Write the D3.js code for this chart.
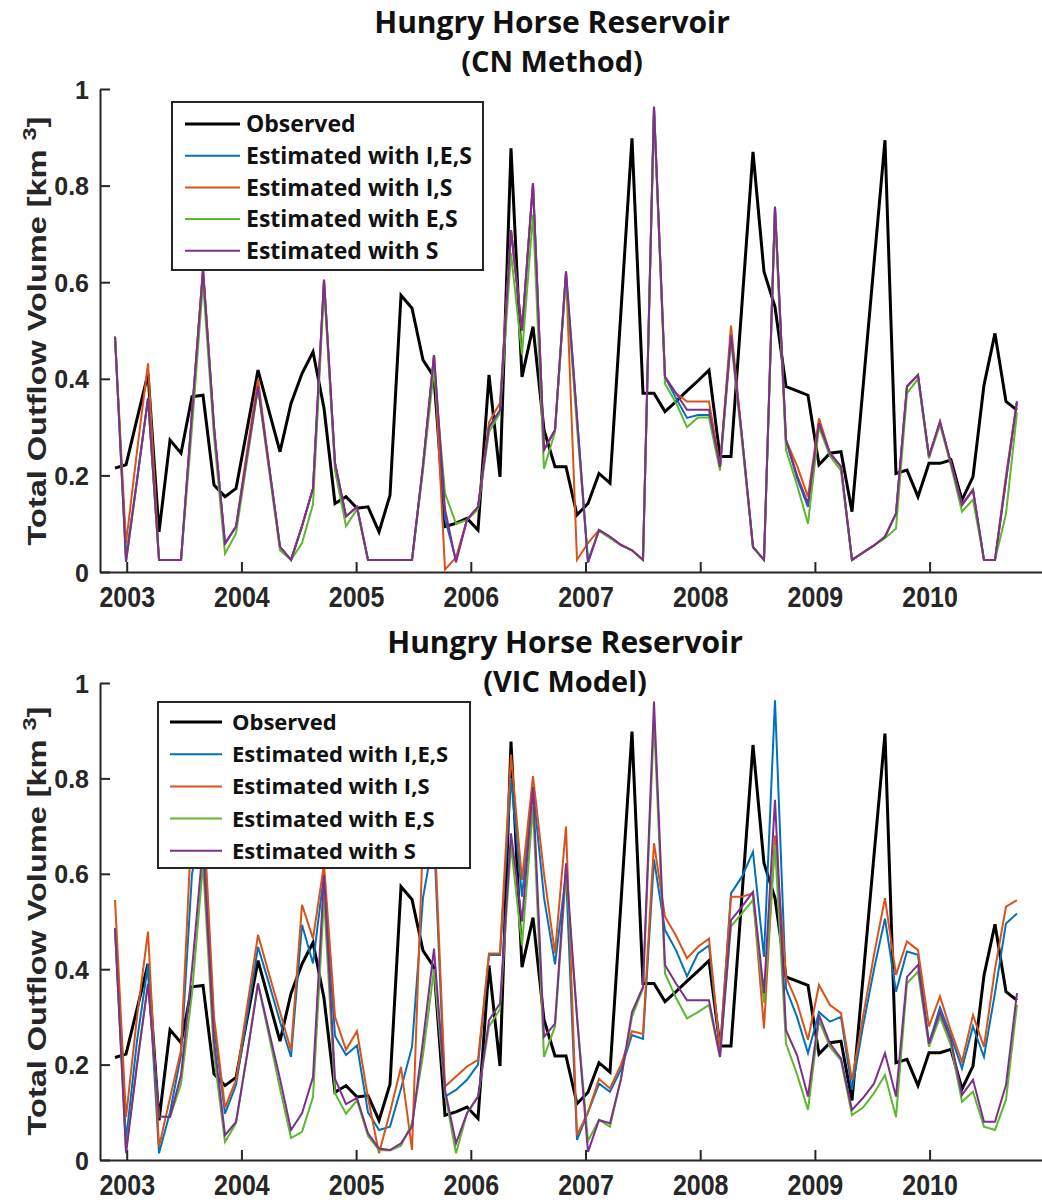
<!DOCTYPE html>
<html>
<head>
<meta charset="utf-8">
<script src="https://cdn.jsdelivr.net/npm/d3@7"></script>
<style>
  body { margin: 0; background: #fff; }
  svg { display: block; }
  .axis path, .axis line { stroke: #262626; stroke-width: 2; }
  .axis text { font-family: "Liberation Sans", Arial, sans-serif; font-weight: bold; font-size: 25px; fill: #262626; }
  .title { font-family: "Open Sans", sans-serif; font-weight: bold; fill: #111; }
  .ylabel { font-family: "Liberation Sans", Arial, sans-serif; font-weight: bold; font-size: 25px; fill: #262626; }
  .legend text { font-family: "Open Sans", sans-serif; font-weight: bold; fill: #111; }
</style>
</head>
<body>
<script>

// sampling: one value about every 35 days, starting late 2002
var firstSample = 2002.898,
    sampleStep = 0.0959;

var yearTicks = [2003, 2004, 2005, 2006, 2007, 2008, 2009, 2010];
var yTicks = [0, 0.2, 0.4, 0.6, 0.8, 1];

var seriesNames = ["Observed", "Estimated with I,E,S", "Estimated with I,S", "Estimated with E,S", "Estimated with S"];
var seriesColors = ["#000000", "#0072BD", "#D95319", "#5DB82E", "#7E2F8E"];

var observed = [
  0.215, 0.222, 0.317, 0.411, 0.083, 0.273, 0.246, 0.363, 0.366, 0.180,
  0.156, 0.173, 0.295, 0.418, 0.333, 0.249, 0.349, 0.411, 0.456, 0.339,
  0.142, 0.156, 0.132, 0.135, 0.083, 0.159, 0.573, 0.546, 0.439, 0.404,
  0.094, 0.101, 0.111, 0.087, 0.408, 0.197, 0.877, 0.404, 0.508, 0.294,
  0.218, 0.218, 0.118, 0.142, 0.204, 0.184, 0.541, 0.898, 0.370, 0.370,
  0.332, 0.353, 0.375, 0.396, 0.418, 0.239, 0.239, 0.555, 0.870, 0.622,
  0.549, 0.384, 0.375, 0.366, 0.222, 0.246, 0.249, 0.125, 0.381, 0.638,
  0.894, 0.204, 0.211, 0.156, 0.225, 0.225, 0.232, 0.149, 0.197, 0.387,
  0.494, 0.353, 0.335
];

// CN method estimates
var cnIES = [
  0.487, 0.030, 0.190, 0.360, 0.025, 0.025, 0.025, 0.330, 0.625, 0.300,
  0.059, 0.094, 0.240, 0.384, 0.220, 0.052, 0.025, 0.095, 0.173, 0.605,
  0.225, 0.115, 0.135, 0.025, 0.025, 0.025, 0.025, 0.025, 0.220, 0.449,
  0.110, 0.025, 0.108, 0.135, 0.300, 0.335, 0.708, 0.500, 0.805, 0.253,
  0.294, 0.622, 0.320, 0.020, 0.087, 0.073, 0.056, 0.045, 0.025, 0.963,
  0.404, 0.360, 0.319, 0.325, 0.325, 0.218, 0.490, 0.280, 0.052, 0.025,
  0.756, 0.273, 0.195, 0.135, 0.308, 0.246, 0.218, 0.025, 0.040, 0.055,
  0.073, 0.121, 0.384, 0.408, 0.239, 0.311, 0.225, 0.139, 0.170, 0.025,
  0.025, 0.190, 0.353
];
var cnIS = [
  0.487, 0.060, 0.250, 0.432, 0.025, 0.025, 0.025, 0.330, 0.630, 0.300,
  0.059, 0.094, 0.250, 0.400, 0.220, 0.052, 0.025, 0.095, 0.173, 0.605,
  0.225, 0.115, 0.135, 0.025, 0.025, 0.025, 0.025, 0.025, 0.220, 0.449,
  0.005, 0.030, 0.108, 0.135, 0.310, 0.350, 0.708, 0.500, 0.805, 0.253,
  0.294, 0.622, 0.025, 0.060, 0.087, 0.073, 0.056, 0.045, 0.025, 0.963,
  0.404, 0.370, 0.353, 0.353, 0.353, 0.218, 0.510, 0.280, 0.052, 0.025,
  0.756, 0.273, 0.220, 0.156, 0.318, 0.246, 0.218, 0.025, 0.040, 0.055,
  0.073, 0.121, 0.384, 0.408, 0.239, 0.311, 0.225, 0.139, 0.170, 0.025,
  0.025, 0.200, 0.353
];
var cnES = [
  0.487, 0.021, 0.190, 0.360, 0.025, 0.025, 0.025, 0.300, 0.600, 0.280,
  0.038, 0.080, 0.230, 0.380, 0.210, 0.045, 0.025, 0.060, 0.140, 0.590,
  0.210, 0.095, 0.130, 0.025, 0.025, 0.025, 0.025, 0.025, 0.210, 0.420,
  0.163, 0.100, 0.108, 0.130, 0.290, 0.330, 0.660, 0.450, 0.740, 0.214,
  0.290, 0.610, 0.300, 0.025, 0.085, 0.070, 0.055, 0.045, 0.025, 0.950,
  0.390, 0.350, 0.300, 0.320, 0.320, 0.210, 0.480, 0.270, 0.050, 0.025,
  0.740, 0.253, 0.180, 0.100, 0.300, 0.240, 0.210, 0.025, 0.040, 0.055,
  0.070, 0.090, 0.370, 0.400, 0.235, 0.305, 0.220, 0.125, 0.150, 0.025,
  0.025, 0.120, 0.330
];
var cnS = [
  0.487, 0.021, 0.190, 0.360, 0.025, 0.025, 0.025, 0.330, 0.625, 0.300,
  0.059, 0.094, 0.240, 0.384, 0.220, 0.052, 0.025, 0.095, 0.173, 0.605,
  0.225, 0.115, 0.135, 0.025, 0.025, 0.025, 0.025, 0.025, 0.220, 0.449,
  0.130, 0.020, 0.108, 0.135, 0.300, 0.335, 0.708, 0.500, 0.805, 0.253,
  0.294, 0.622, 0.320, 0.020, 0.087, 0.073, 0.056, 0.045, 0.025, 0.963,
  0.404, 0.370, 0.336, 0.336, 0.336, 0.218, 0.490, 0.280, 0.052, 0.025,
  0.756, 0.273, 0.200, 0.142, 0.308, 0.246, 0.218, 0.025, 0.040, 0.055,
  0.073, 0.121, 0.384, 0.408, 0.239, 0.311, 0.225, 0.139, 0.170, 0.025,
  0.025, 0.190, 0.353
];

// VIC model estimates
var vicIES = [
  0.486, 0.040, 0.250, 0.410, 0.014, 0.100, 0.220, 0.600, 0.720, 0.280,
  0.097, 0.157, 0.300, 0.447, 0.370, 0.290, 0.216, 0.493, 0.412, 0.600,
  0.260, 0.220, 0.240, 0.100, 0.063, 0.070, 0.150, 0.237, 0.550, 0.680,
  0.133, 0.147, 0.168, 0.200, 0.430, 0.430, 0.800, 0.552, 0.780, 0.550,
  0.410, 0.600, 0.042, 0.100, 0.160, 0.143, 0.190, 0.262, 0.254, 0.630,
  0.482, 0.440, 0.385, 0.433, 0.450, 0.230, 0.559, 0.594, 0.646, 0.426,
  0.964, 0.360, 0.300, 0.224, 0.310, 0.290, 0.300, 0.147, 0.280, 0.400,
  0.506, 0.353, 0.437, 0.430, 0.244, 0.320, 0.260, 0.192, 0.280, 0.216,
  0.350, 0.496, 0.517
];
var vicIS = [
  0.545, 0.090, 0.300, 0.479, 0.028, 0.130, 0.230, 0.720, 0.750, 0.300,
  0.110, 0.168, 0.320, 0.472, 0.390, 0.310, 0.230, 0.535, 0.464, 0.620,
  0.300, 0.231, 0.270, 0.130, 0.014, 0.100, 0.195, 0.021, 0.680, 0.720,
  0.154, 0.175, 0.196, 0.210, 0.433, 0.433, 0.850, 0.587, 0.805, 0.600,
  0.433, 0.699, 0.052, 0.100, 0.170, 0.150, 0.200, 0.270, 0.264, 0.664,
  0.510, 0.470, 0.423, 0.447, 0.464, 0.230, 0.552, 0.552, 0.559, 0.276,
  0.680, 0.384, 0.330, 0.252, 0.367, 0.325, 0.308, 0.168, 0.300, 0.430,
  0.549, 0.388, 0.458, 0.440, 0.280, 0.343, 0.270, 0.206, 0.304, 0.237,
  0.400, 0.531, 0.545
];
var vicES = [
  0.486, 0.020, 0.200, 0.370, 0.091, 0.090, 0.160, 0.350, 0.620, 0.220,
  0.038, 0.077, 0.220, 0.370, 0.260, 0.150, 0.046, 0.059, 0.132, 0.550,
  0.140, 0.097, 0.125, 0.050, 0.021, 0.020, 0.030, 0.077, 0.220, 0.400,
  0.140, 0.014, 0.098, 0.133, 0.280, 0.316, 0.660, 0.450, 0.740, 0.216,
  0.280, 0.600, 0.300, 0.040, 0.084, 0.070, 0.170, 0.300, 0.360, 0.920,
  0.391, 0.340, 0.297, 0.310, 0.325, 0.216, 0.490, 0.517, 0.545, 0.330,
  0.660, 0.244, 0.180, 0.105, 0.293, 0.237, 0.209, 0.094, 0.110, 0.140,
  0.178, 0.090, 0.370, 0.395, 0.237, 0.300, 0.240, 0.122, 0.143, 0.070,
  0.063, 0.126, 0.325
];
var vicS = [
  0.486, 0.014, 0.200, 0.370, 0.091, 0.090, 0.178, 0.400, 0.660, 0.250,
  0.052, 0.080, 0.220, 0.370, 0.270, 0.170, 0.063, 0.098, 0.174, 0.597,
  0.170, 0.117, 0.130, 0.056, 0.024, 0.021, 0.035, 0.070, 0.250, 0.443,
  0.147, 0.035, 0.098, 0.133, 0.293, 0.328, 0.685, 0.500, 0.782, 0.258,
  0.286, 0.622, 0.300, 0.017, 0.084, 0.077, 0.170, 0.310, 0.363, 0.961,
  0.409, 0.370, 0.335, 0.335, 0.335, 0.216, 0.503, 0.531, 0.562, 0.350,
  0.755, 0.272, 0.220, 0.133, 0.304, 0.244, 0.213, 0.105, 0.130, 0.160,
  0.224, 0.133, 0.384, 0.409, 0.244, 0.310, 0.251, 0.136, 0.168, 0.080,
  0.080, 0.157, 0.350
];

var times = d3.range(observed.length).map(function(i) {
  return firstSample + i * sampleStep;
});

var svg = d3.select("body").append("svg")
    .attr("width", 1042)
    .attr("height", 1202);

var x = d3.scaleLinear()
  .domain([2002.767, 2010.98])
  .range([100, 1042]);

// one panel = title, axes, five lines, legend
function drawPanel(p) {
  var y = d3.scaleLinear()
    .domain([0, 1])
    .range([p.bottom, p.top]);

  var g = svg.append("g");

  var xAxis = d3.axisBottom(x)
    .tickValues(yearTicks)
    .tickFormat(d3.format("d"))
    .tickSizeInner(-10)
    .tickSizeOuter(0);

  var yAxis = d3.axisLeft(y)
    .tickValues(yTicks)
    .tickFormat(function(d) { return d === 0 || d === 1 ? d : d.toFixed(1); })
    .tickSizeInner(-10)
    .tickSizeOuter(0)
    .tickPadding(11);

  g.append("g")
    .attr("class", "axis")
    .attr("transform", "translate(0," + p.bottom + ")")
    .call(xAxis)
    .selectAll("text")
      .attr("dy", null)
      .attr("y", 29.5)
      .attr("transform", "scale(1,1.2)");

  g.append("g")
    .attr("class", "axis")
    .attr("transform", "translate(100,0)")
    .call(yAxis)
    .selectAll("text")
      .attr("dy", "0.36em");

  var line = d3.line()
    .x(function(d, i) { return x(times[i]); })
    .y(function(d) { return y(d); });

  p.series.forEach(function(s, k) {
    g.append("path")
      .datum(s)
      .attr("fill", "none")
      .attr("stroke", seriesColors[k])
      .attr("stroke-width", k === 0 ? 3 : 2)
      .attr("stroke-linejoin", "miter")
      .attr("d", line);
  });

  // y label
  var yl = g.append("text")
    .attr("class", "ylabel")
    .attr("text-anchor", "middle")
    .attr("transform", "translate(46," + p.labelY + ") rotate(-90) scale(1.3,1)");
  yl.append("tspan").text("Total Outflow Volume [km ");
  yl.append("tspan").attr("dy", -10).attr("font-size", 18).text("3");
  yl.append("tspan").attr("dy", 10).text("]");

  // legend
  var lg = g.append("g").attr("class", "legend");
  lg.append("rect")
    .attr("x", p.legend.x)
    .attr("y", p.legend.y)
    .attr("width", p.legend.w)
    .attr("height", p.legend.h)
    .attr("fill", "#fff")
    .attr("stroke", "#262626")
    .attr("stroke-width", 2);

  seriesNames.forEach(function(name, k) {
    var ry = p.legend.y + p.legend.first + k * p.legend.step;
    lg.append("line")
      .attr("x1", p.legend.x + p.legend.lx1)
      .attr("x2", p.legend.x + p.legend.lx2)
      .attr("y1", ry)
      .attr("y2", ry)
      .attr("stroke", seriesColors[k])
      .attr("stroke-width", k === 0 ? 3 : 2);
    lg.append("text")
      .attr("x", p.legend.x + p.legend.tx)
      .attr("y", ry)
      .attr("dy", "0.36em")
      .attr("font-size", p.legend.fs)
      .text(name);
  });

  // titles
  g.append("text")
    .attr("class", "title")
    .attr("x", p.titleX)
    .attr("y", p.titleY)
    .attr("text-anchor", "middle")
    .attr("font-size", 30)
    .text("Hungry Horse Reservoir");
  g.append("text")
    .attr("class", "title")
    .attr("x", p.titleX)
    .attr("y", p.titleY + 39)
    .attr("text-anchor", "middle")
    .attr("font-size", 29)
    .text(p.subtitle);
}

drawPanel({
  top: 89, bottom: 572, titleX: 552, titleY: 33, labelY: 331,
  subtitle: "(CN Method)",
  series: [observed, cnIES, cnIS, cnES, cnS],
  legend: {x: 172, y: 102, w: 311, h: 168, first: 22, step: 31.7, lx1: 13, lx2: 68, tx: 74, fs: 23}
});

drawPanel({
  top: 683, bottom: 1160, titleX: 565, titleY: 653, labelY: 921,
  subtitle: "(VIC Model)",
  series: [observed, vicIES, vicIS, vicES, vicS],
  legend: {x: 158, y: 702, w: 312, h: 166, first: 20, step: 32.2, lx1: 12, lx2: 64, tx: 74, fs: 22}
});

</script>
</body>
</html>
